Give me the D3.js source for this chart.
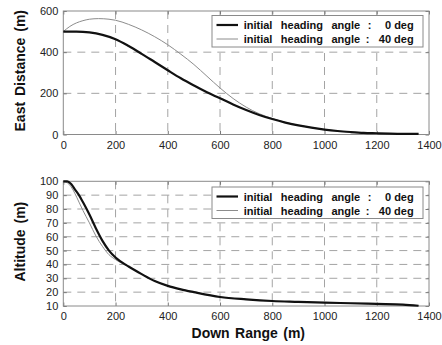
<!DOCTYPE html>
<html>
<head>
<meta charset="utf-8">
<script src="https://cdn.jsdelivr.net/npm/d3@7"></script>
<style>
  html, body { margin: 0; padding: 0; background: #fff; }
  svg { display: block; font-family: "Liberation Sans", Arial, sans-serif; }
</style>
</head>
<body>
<svg id="chart" width="442" height="345"></svg>
<script>
// Down range samples (m) and east distance (m) for the two initial headings
const eastRange0 = [0, 50, 100, 150, 200, 250, 300, 350, 400, 450, 500, 550, 600, 650, 700, 750, 800, 850, 900, 950, 1000, 1050, 1100, 1150, 1200, 1250, 1300, 1360];
const eastDist0  = [500, 500, 496, 484, 463, 430, 392, 352, 312, 273, 238, 205, 176, 146, 119, 95, 75, 58, 44, 33, 24, 17, 12, 8, 6, 4, 3, 3];

const eastRange40 = [0, 25, 50, 75, 100, 135, 175, 200, 250, 300, 350, 400, 450, 500, 550, 600, 650, 700, 750, 800, 850, 900, 950, 1000, 1050, 1100, 1150, 1200, 1250, 1300, 1360];
const eastDist40  = [500, 525, 542, 553, 560, 563, 560, 555, 535, 508, 475, 436, 390, 340, 283, 226, 175, 133, 101, 78, 59, 45, 33, 24, 17, 12, 8, 6, 4, 3, 3];

// Altitude (m) against down range for the two headings
const altRange0 = [0, 15, 30, 45, 60, 75, 100, 125, 150, 175, 200, 250, 300, 350, 400, 450, 500, 600, 700, 800, 900, 1000, 1100, 1200, 1300, 1360];
const altitude0 = [100, 100, 98, 94, 90, 85, 76, 66, 57, 50, 45, 38.5, 33, 28, 24.5, 22, 20, 16.5, 14.8, 13.6, 13, 12.4, 12, 11.5, 11, 10.2];

const altRange40 = [0, 15, 30, 45, 60, 75, 100, 125, 150, 175, 200, 250, 300, 350, 400, 450, 500, 600, 700, 800, 900, 1000, 1100, 1200, 1300, 1360];
const altitude40 = [100, 99, 96, 91, 85, 79, 70, 60.5, 53, 47, 43.5, 38.3, 33, 28, 24.5, 22, 20, 16.5, 14.8, 13.6, 13, 12.4, 12, 11.5, 11, 10.2];

// Axis ticks and labels
const xTicks = [0, 200, 400, 600, 800, 1000, 1200, 1400];
const eastTicks = [0, 200, 400, 600];
const altTicks = [10, 20, 30, 40, 50, 60, 70, 80, 90, 100];
const legendHeads = ["initial heading angle", "initial heading angle"];
const legendValues = ["0 deg", "40 deg"];

const svg = d3.select("#chart");
const font = '"Liberation Sans", Arial, sans-serif';

const x = d3.scaleLinear().domain([0, 1400]).range([63.3, 429]);

function panel(opts) {
  const { y, yTicks, series, yLabel, legendTop } = opts;
  const g = svg.append("g");
  const [y0, y1] = y.range(); // bottom, top
  const [x0, x1] = x.range();

  // white plot area
  g.append("rect").attr("x", x0).attr("y", y1)
    .attr("width", x1 - x0).attr("height", y0 - y1).attr("fill", "#fff");

  // dashed grid
  g.append("g").selectAll("line").data(xTicks.slice(1, -1)).join("line")
    .attr("x1", d => x(d)).attr("x2", d => x(d))
    .attr("y1", y1).attr("y2", y0)
    .attr("stroke", "#9a9a9a").attr("stroke-width", 0.9).attr("stroke-dasharray", "8,6");
  g.append("g").selectAll("line").data(yTicks.slice(1, -1)).join("line")
    .attr("x1", x0).attr("x2", x1)
    .attr("y1", d => y(d)).attr("y2", d => y(d))
    .attr("stroke", "#9a9a9a").attr("stroke-width", 0.9).attr("stroke-dasharray", "8,6");

  // axes with inward ticks
  const fmt = d3.format("d");
  const ax = g.append("g").attr("transform", `translate(0,${y0})`)
    .call(d3.axisBottom(x).tickValues(xTicks).tickFormat(fmt).tickSizeInner(-3.5).tickSizeOuter(0).tickPadding(6.5));
  const ay = g.append("g").attr("transform", `translate(${x0},0)`)
    .call(d3.axisLeft(y).tickValues(yTicks).tickFormat(fmt).tickSizeInner(-3.5).tickSizeOuter(0).tickPadding(5));
  const axTop = g.append("g").attr("transform", `translate(0,${y1})`)
    .call(d3.axisTop(x).tickValues(xTicks).tickSizeInner(-3.5).tickSizeOuter(0).tickFormat(""));
  const ayRight = g.append("g").attr("transform", `translate(${x1},0)`)
    .call(d3.axisRight(y).tickValues(yTicks).tickSizeInner(-3.5).tickSizeOuter(0).tickFormat(""));
  [ax, ay, axTop, ayRight].forEach(a => {
    a.select(".domain").remove();
    a.selectAll("line").attr("stroke", "#777");
    a.selectAll("text").attr("fill", "#222").style("font-family", font).style("font-size", "11px");
  });

  // frame
  g.append("rect").attr("x", x0).attr("y", y1)
    .attr("width", x1 - x0).attr("height", y0 - y1)
    .attr("fill", "none").attr("stroke", "#8a8a8a").attr("stroke-width", 1);

  // curves: thin grey first, heavy black over it
  const line = d3.line().x(d => x(d[0])).y(d => y(d[1])).curve(d3.curveMonotoneX);
  series.slice().reverse().forEach(s => {
    g.append("path").datum(d3.zip(s.xs, s.ys)).attr("d", line)
      .attr("fill", "none").attr("stroke", s.color).attr("stroke-width", s.width)
      .attr("stroke-linejoin", "round");
  });

  // y-axis title
  g.append("text")
    .attr("transform", `translate(24.5,${(y0 + y1) / 2 - 2}) rotate(-90)`)
    .attr("text-anchor", "middle")
    .style("font-family", font).style("font-size", "14px").style("font-weight", "bold")
    .style("word-spacing", "2px")
    .attr("fill", "#111").text(yLabel);

  // legend
  const lg = g.append("g");
  const lx0 = 212, lx1 = 423, ly0 = legendTop, ly1 = legendTop + 31.5;
  lg.append("rect").attr("x", lx0).attr("y", ly0).attr("width", lx1 - lx0).attr("height", ly1 - ly0)
    .attr("fill", "#fff").attr("stroke", "#8a8a8a").attr("stroke-width", 1);
  series.forEach((s, i) => {
    const cy = ly0 + 9.5 + i * 14;
    lg.append("line").attr("x1", 216.5).attr("x2", 238).attr("y1", cy).attr("y2", cy)
      .attr("stroke", s.color).attr("stroke-width", s.width);
    const t = lg.append("g").style("font-family", font).style("font-size", "11px")
      .style("font-weight", "bold").attr("fill", "#111");
    t.append("text").attr("x", 243.7).attr("y", cy + 4)
      .style("word-spacing", "5.4px").text(legendHeads[i]);
    t.append("text").attr("x", i === 0 ? 369.5 : 367.5).attr("y", cy + 4)
      .attr("text-anchor", "middle").text(":");
    t.append("text").attr("x", 413.7).attr("y", cy + 4)
      .attr("text-anchor", "end").text(legendValues[i]);
  });
}

// East distance panel
panel({
  y: d3.scaleLinear().domain([0, 600]).range([134.5, 11]),
  yTicks: eastTicks,
  yLabel: "East Distance (m)",
  legendTop: 15.5,
  series: [
    { xs: eastRange0, ys: eastDist0, color: "#111", width: 2.2 },
    { xs: eastRange40, ys: eastDist40, color: "#8c8c8c", width: 1 }
  ]
});

// Altitude panel
panel({
  y: d3.scaleLinear().domain([10, 100]).range([306, 181.3]),
  yTicks: altTicks,
  yLabel: "Altitude (m)",
  legendTop: 187,
  series: [
    { xs: altRange0, ys: altitude0, color: "#111", width: 2.2 },
    { xs: altRange40, ys: altitude40, color: "#8c8c8c", width: 1 }
  ]
});

// shared x-axis title
svg.append("text")
  .attr("x", 248.3).attr("y", 338.3)
  .attr("text-anchor", "middle")
  .style("font-family", font).style("font-size", "14px").style("font-weight", "bold")
  .style("word-spacing", "1.5px")
  .attr("fill", "#111").text("Down Range (m)");
</script>
</body>
</html>
